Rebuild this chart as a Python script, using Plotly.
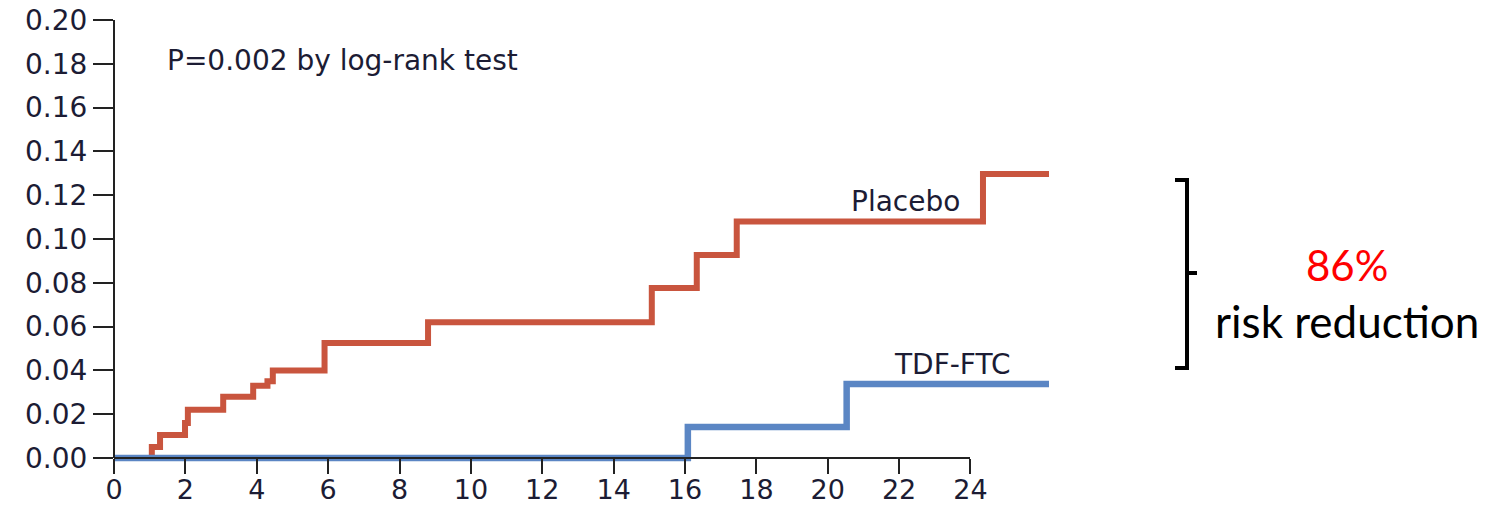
import plotly.graph_objects as go

# months since randomization and cumulative probability of infection
placebo_t = [0, 1.06, 1.29, 1.99, 2.07, 3.06, 3.9, 4.3, 4.45, 5.9, 8.8, 15.07, 16.33, 17.45, 24.35, 26.2]
placebo_p = [0, 0.005, 0.0105, 0.016, 0.022, 0.028, 0.033, 0.035, 0.040, 0.0525, 0.062, 0.0776, 0.0927, 0.108, 0.1297, 0.1297]

tdf_t = [0, 16.08, 20.53, 26.2]
tdf_p = [0, 0.0142, 0.0338, 0.0338]

x_ticks = list(range(0, 25, 2))
y_ticks = [round(0.02 * i, 2) for i in range(11)]

_red = '#C9553E'
_blue = '#5B86C4'
_ink = '#1c1c34'
_font = 'DejaVu Sans'
_fs = 28

# page body has an 8px margin, so the figure is drawn 8px in from the corner
OFF = 8
W, H = 1499 - OFF, 507 - OFF
L, R, T, B = 114 - OFF, 450, 10 - OFF, 37
plot_w = W - L - R
plot_h = H - T - B

x_max = 26.2
px_per_y = 2190.0
y_lo = -(470 - 458) / px_per_y
y_hi = 0.2 + (20 - 10) / px_per_y


def py(pix):
    # reference pixel row -> paper fraction
    return (H - B - (pix - OFF)) / plot_h


def px(pix):
    return (pix - OFF - L) / plot_w


fig = go.Figure()

fig.add_trace(go.Scatter(x=placebo_t, y=placebo_p, mode='lines', line_shape='hv',
                         line=dict(color=_red, width=6), name='Placebo',
                         xaxis='x', yaxis='y'))
fig.add_trace(go.Scatter(x=tdf_t, y=tdf_p, mode='lines', line_shape='hv',
                         line=dict(color=_blue, width=6.5), name='TDF-FTC',
                         xaxis='x', yaxis='y'))
# empty trace so the display axes get a subplot
fig.add_trace(go.Scatter(x=[], y=[], xaxis='x2', yaxis='y2', showlegend=False))

fig.update_layout(
    template='none',
    width=W, height=H,
    margin=dict(l=L, r=R, t=T, b=B, autoexpand=False),
    paper_bgcolor='white',
    plot_bgcolor='rgba(0,0,0,0)',
    showlegend=False,
    xaxis=dict(domain=[0, 1], range=[0, x_max], visible=False, fixedrange=True, automargin=False),
    yaxis=dict(domain=[0, 1], range=[y_lo, y_hi], visible=False, fixedrange=True, automargin=False),
    xaxis2=dict(domain=[0, 24 / x_max], range=[0, 24], anchor='free', position=py(458),
                tickvals=x_ticks, ticks='outside', ticklen=15, tickwidth=2, tickcolor='#222',
                showline=True, linecolor='#222', linewidth=2, showgrid=False, zeroline=False,
                automargin=False, ticklabelstandoff=-7, ticklabeloverflow='allow',
                tickfont=dict(family=_font, size=27, color=_ink)),
    yaxis2=dict(domain=[py(458), py(20)], range=[0, 0.2], anchor='free', position=0,
                tickvals=y_ticks, tickformat='.2f', ticks='outside', ticklen=20, tickwidth=2,
                tickcolor='#222', showline=True, linecolor='#222', linewidth=2,
                showgrid=False, zeroline=False, automargin=False, ticklabeloverflow='allow',
                tickfont=dict(family=_font, size=_fs, color=_ink)),
)

annotations = [
    dict(xref='x', yref='y', x=1.43, y=0.1817, xanchor='left', yanchor='middle',
         text='P=0.002 by log-rank test', showarrow=False,
         font=dict(family=_font, size=_fs, color=_ink)),
    dict(xref='x', yref='y', x=23.75, y=0.117, xanchor='right', yanchor='middle',
         text='Placebo', showarrow=False, font=dict(family=_font, size=_fs, color=_ink)),
    dict(xref='x', yref='y', x=25.2, y=0.0425, xanchor='right', yanchor='middle',
         text='TDF-FTC', showarrow=False, font=dict(family=_font, size=_fs, color=_ink)),
    dict(xref='paper', yref='paper', x=px(1347), y=py(265), xanchor='center', yanchor='middle',
         text='86%', showarrow=False, font=dict(family='Lato', size=42, color='red')),
    dict(xref='paper', yref='paper', x=px(1347), y=py(321), xanchor='center', yanchor='middle',
         text='risk reduction', showarrow=False, font=dict(family='Lato', size=44, color='black')),
]
fig.update_layout(annotations=annotations)

# bracket
bx0, bx1, bx2 = px(1175), px(1187), px(1197)
by0, by1, by2 = py(180), py(273), py(368)
fig.add_shape(type='path', xref='paper', yref='paper',
              path=f'M {bx0} {by0} L {bx1} {by0} L {bx1} {by2} L {bx0} {by2}',
              line=dict(color='black', width=4))
fig.add_shape(type='line', xref='paper', yref='paper', x0=bx1, x1=bx2, y0=by1, y1=by1,
              line=dict(color='black', width=4))

fig.write_html('out.html')
